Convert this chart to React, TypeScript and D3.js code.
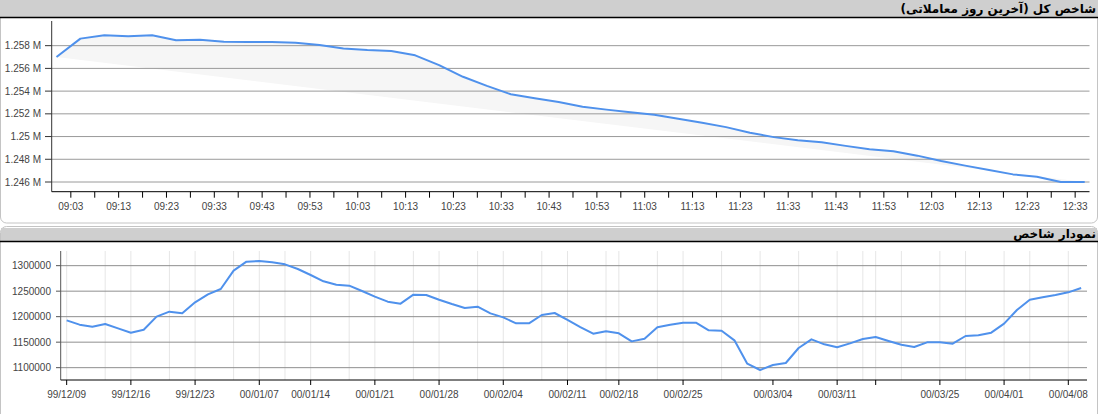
import React from "react";
import * as d3 from "d3";

// ---------- Top chart data (last trading day, every 5 minutes) ----------
const topTimes: string[] = [
  "09:00","09:05","09:10","09:15","09:20","09:25","09:30","09:35","09:40","09:45",
  "09:50","09:55","10:00","10:05","10:10","10:15","10:20","10:25","10:30","10:35",
  "10:40","10:45","10:50","10:55","11:00","11:05","11:10","11:15","11:20","11:25",
  "11:30","11:35","11:40","11:45","11:50","11:55","12:00","12:05","12:10","12:15",
  "12:20","12:25","12:30","12:35",
];
const topValues: number[] = [
  1257000, 1258620, 1258910, 1258830, 1258910, 1258470, 1258530, 1258350, 1258320, 1258320,
  1258260, 1258060, 1257760, 1257620, 1257530, 1257150, 1256290, 1255260, 1254460, 1253720,
  1253370, 1253040, 1252630, 1252370, 1252130, 1251920, 1251570, 1251210, 1250830, 1250330,
  1249950, 1249680, 1249500, 1249180, 1248890, 1248710, 1248320, 1247850, 1247440, 1247060,
  1246670, 1246470, 1246000, 1246000,
];
const topYTicks: number[] = [1246000, 1248000, 1250000, 1252000, 1254000, 1256000, 1258000];
const topXTicks: string[] = [
  "09:03","09:08","09:13","09:18","09:23","09:28","09:33","09:38","09:43","09:48",
  "09:53","09:58","10:03","10:08","10:13","10:18","10:23","10:28","10:33","10:38",
  "10:43","10:48","10:53","10:58","11:03","11:08","11:13","11:18","11:23","11:28",
  "11:33","11:38","11:43","11:48","11:53","11:58","12:03","12:08","12:13","12:18",
  "12:23","12:28","12:33",
];
const topXDomain: string[] = ["08:59", "12:36"];

// ---------- Bottom chart data (daily index) ----------
const bottomValues: number[] = [
  1192800, 1184300, 1180400, 1185600, 1177100, 1168600, 1174500, 1200000, 1209800, 1206500,
  1228100, 1243800, 1254200, 1290200, 1307800, 1309200, 1306500, 1302600, 1293500, 1281700,
  1269300, 1262700, 1260800, 1250300, 1239200, 1229400, 1225500, 1243100, 1242500, 1233300,
  1224800, 1217000, 1219600, 1206500, 1198700, 1186900, 1186900, 1203300, 1207200, 1193500,
  1179700, 1166700, 1171200, 1167300, 1151600, 1156900, 1179100, 1184300, 1188200, 1188200,
  1173200, 1172500, 1153600, 1107800, 1095400, 1105200, 1109200, 1138600, 1155600, 1145800,
  1139900, 1147700, 1156200, 1160100, 1152300, 1145100, 1140500, 1149700, 1149700, 1147100,
  1162100, 1163400, 1168600, 1186300, 1213100, 1233300, 1237900, 1242500, 1247700, 1256200,
];
const bottomYTicks: number[] = [1100000, 1150000, 1200000, 1250000, 1300000];
const bottomTickIndex: number[] = [0, 5, 10, 15, 19, 24, 29, 34, 39, 43, 48, 55, 60, 63, 68, 73, 78];
const bottomTickLabels: string[] = [
  "99/12/09", "99/12/16", "99/12/23", "00/01/07", "00/01/14", "00/01/21", "00/01/28",
  "00/02/04", "00/02/11", "00/02/18", "00/02/25", "00/03/04", "00/03/11", "",
  "00/03/25", "00/04/01", "00/04/08",
];
const bottomGridIndex: number[] = [
  0, 3, 5, 8, 10, 13, 15, 17, 19, 22, 24, 27, 29, 32, 34, 37, 39, 42, 43, 46, 48,
  51, 54, 57, 60, 62, 63, 65, 68, 70, 73, 75, 78,
];

const title1 = "شاخص کل (آخرین روز معاملاتی)";
const title2 = "نمودار شاخص";

const LINE = "#4f91ec";
const AXIS_FONT = "'Liberation Sans', Arial, sans-serif";
const TITLE_FONT = "'DejaVu Sans', sans-serif";

const parseT = d3.timeParse("%H:%M");

export default function App() {
  // ---- top chart scales ----
  const tx = d3
    .scaleTime()
    .domain(topXDomain.map((s) => parseT(s) as Date))
    .range([51.7, 1089.5]);
  const ty = d3.scaleLinear().domain([1246000, 1258000]).range([182, 45.67]);
  const topPlotTop = 21;
  const topPlotBottom = 191.7;

  const topPts: [number, number][] = topTimes.map((t, i) => [tx(parseT(t) as Date), ty(topValues[i])]);
  const topLine = d3.line<[number, number]>()(topPts) || "";
  const first = topPts[0];
  const last = topPts[topPts.length - 1];
  const fillPoly = d3.line<[number, number]>()([...topPts, last, first]) || "";

  // ---- bottom chart scales ----
  const bx = d3.scaleLinear().domain([0, 78]).range([66.67, 1068.3]);
  const by = d3.scaleLinear().domain([1100000, 1300000]).range([367.67, 265.67]);
  const botTop = 251;
  const botBottom = 380;
  const botLeft = 60.7;
  const botRight = 1087;
  const botLine =
    d3
      .line<number>()
      .x((_, i) => bx(i))
      .y((d) => by(d))(bottomValues) || "";

  const fmtTop = (v: number) => `${+(v / 1e6).toFixed(3)} M`;

  return (
    <div style={{ position: "absolute", left: 0, top: 0 }}>
      <svg width={1102} height={414} style={{ display: "block" }}>
        <rect x={0} y={0} width={1102} height={414} fill="#fff" />

        {/* ---------- Top panel ---------- */}
        <rect x={0.5} y={-10} width={1097} height={233} rx={6} fill="#fff" stroke="#c4c4c4" />
        <rect x={0} y={0} width={1098} height={17} fill="#cfcfcf" />
        <line x1={0} x2={1098} y1={17.5} y2={17.5} stroke="#000" strokeWidth={1.5} />
        <text
          x={1096}
          y={13}
          direction="rtl"
          textAnchor="start"
          fontFamily={TITLE_FONT}
          fontWeight="bold"
          fontSize={12}
          fill="#000"
        >
          {title1}
        </text>

        {/* fill between line and chord */}
        <path d={fillPoly} fill="#f6f6f6" stroke="none" />
        {/* grid */}
        {topYTicks.map((v) => (
          <line key={v} x1={51.7} x2={1089.5} y1={ty(v)} y2={ty(v)} stroke="#9a9a9a" strokeWidth={1} />
        ))}
        <path d={topLine} fill="none" stroke={LINE} strokeWidth={2} strokeLinejoin="round" />

        {/* y axis */}
        <line x1={51.7} x2={51.7} y1={topPlotTop} y2={topPlotBottom} stroke="#333" />
        {topYTicks.map((v) => (
          <g key={"yt" + v}>
            <line x1={45} x2={51.7} y1={ty(v)} y2={ty(v)} stroke="#333" />
            <text
              x={41}
              y={ty(v)}
              dy="0.35em"
              textAnchor="end"
              fontFamily={AXIS_FONT}
              fontSize={10}
              fill="#444"
            >
              {fmtTop(v)}
            </text>
          </g>
        ))}
        {/* x axis */}
        <line x1={51.7} x2={1089.5} y1={topPlotBottom} y2={topPlotBottom} stroke="#000" />
        {topXTicks.map((t, i) => {
          const x = tx(parseT(t) as Date);
          return (
            <g key={"xt" + t}>
              <line x1={x} x2={x} y1={topPlotBottom} y2={topPlotBottom + 6} stroke="#000" />
              {i % 2 === 0 && (
                <text
                  x={x}
                  y={210}
                  textAnchor="middle"
                  fontFamily={AXIS_FONT}
                  fontSize={10}
                  fill="#444"
                >
                  {t}
                </text>
              )}
            </g>
          );
        })}

        {/* ---------- Bottom panel ---------- */}
        <rect x={0.5} y={226.5} width={1097} height={200} rx={6} fill="#fff" stroke="#c4c4c4" />
        <rect x={1} y={228} width={1096} height={13} fill="#cfcfcf" />
        <line x1={0} x2={1098} y1={241.5} y2={241.5} stroke="#000" strokeWidth={1.5} />
        <text
          x={1096}
          y={238}
          direction="rtl"
          textAnchor="start"
          fontFamily={TITLE_FONT}
          fontWeight="bold"
          fontSize={12}
          fill="#000"
        >
          {title2}
        </text>

        {/* vertical grid */}
        {bottomGridIndex.map((i) => (
          <line key={"vg" + i} x1={bx(i)} x2={bx(i)} y1={botTop} y2={botBottom} stroke="#e6e6e6" />
        ))}
        {/* horizontal grid */}
        {bottomYTicks.map((v) => (
          <line key={"hg" + v} x1={botLeft} x2={botRight} y1={by(v)} y2={by(v)} stroke="#8f8f8f" />
        ))}
        <path d={botLine} fill="none" stroke={LINE} strokeWidth={2} strokeLinejoin="round" />

        {/* y axis */}
        <line x1={botLeft} x2={botLeft} y1={botTop} y2={botBottom} stroke="#555" />
        {bottomYTicks.map((v) => (
          <g key={"byt" + v}>
            <line x1={56} x2={botLeft} y1={by(v)} y2={by(v)} stroke="#555" />
            <text
              x={51}
              y={by(v)}
              dy="0.35em"
              textAnchor="end"
              fontFamily={AXIS_FONT}
              fontSize={10}
              fill="#444"
            >
              {v}
            </text>
          </g>
        ))}
        {/* x axis */}
        <line x1={botLeft} x2={botRight} y1={botBottom} y2={botBottom} stroke="#000" />
        {bottomTickIndex.map((idx, k) => (
          <g key={"bxt" + idx}>
            <line x1={bx(idx)} x2={bx(idx)} y1={botBottom} y2={botBottom + 5} stroke="#000" />
            <text
              x={bx(idx)}
              y={398}
              textAnchor="middle"
              fontFamily={AXIS_FONT}
              fontSize={10}
              fill="#444"
            >
              {bottomTickLabels[k]}
            </text>
          </g>
        ))}
      </svg>
    </div>
  );
}
